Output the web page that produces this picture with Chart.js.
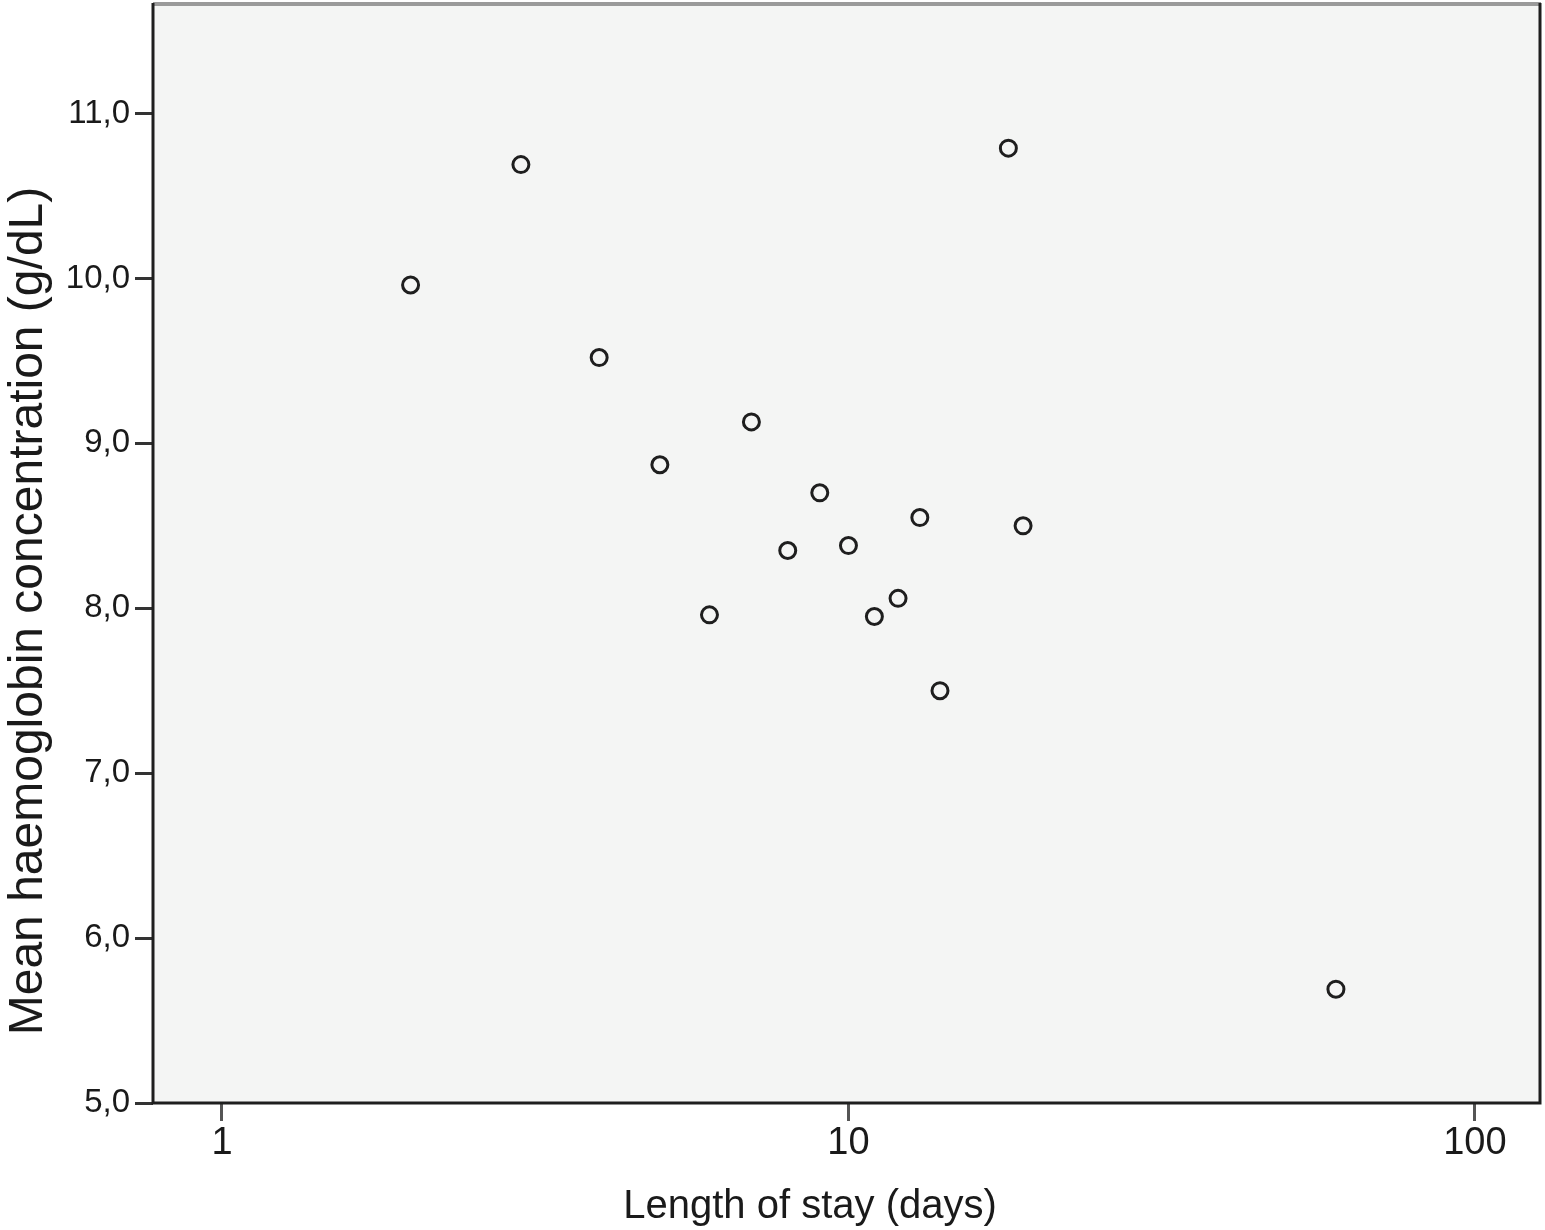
<!DOCTYPE html>
<html>
<head>
<meta charset="utf-8">
<script src="https://cdn.jsdelivr.net/npm/chart.js@4"></script>
<style>
  body { margin: 0; background: #fff; }
  canvas { display: block; }
</style>
</head>
<body>
<canvas id="hbChart" width="1545" height="1230"></canvas>
<script>
// Data
const lengthOfStay = [2, 3, 4, 5, 6, 7, 8, 9, 10, 11, 12, 13, 14, 18, 19, 60];
const haemoglobin = [9.96, 10.69, 9.52, 8.87, 7.96, 9.13, 8.35, 8.70, 8.38, 7.95, 8.06, 8.55, 7.50, 10.79, 8.50, 5.69];
const xTickValues = [1, 10, 100];
const yTickValues = [5, 6, 7, 8, 9, 10, 11];
const xTitle = 'Length of stay (days)';
const yTitle = 'Mean haemoglobin concentration (g/dL)';

const FONT = '"Liberation Sans", Arial, Helvetica, sans-serif';

// plot background + frame + axis titles
const framePlugin = {
    id: 'frame',
    beforeDraw(chart) {
        const { ctx, chartArea: a } = chart;
        ctx.save();
        ctx.fillStyle = '#f4f5f4';
        ctx.fillRect(a.left, a.top, a.right - a.left, a.bottom - a.top);
        ctx.restore();
    },
    afterDraw(chart) {
        const { ctx, chartArea: a } = chart;
        ctx.save();
        // top edge (grey)
        ctx.strokeStyle = '#9a9a9a';
        ctx.lineWidth = 4;
        ctx.beginPath();
        ctx.moveTo(a.left, a.top + 1);
        ctx.lineTo(a.right, a.top + 1);
        ctx.stroke();
        // right, bottom, left (dark)
        ctx.strokeStyle = '#1e1e1e';
        ctx.lineWidth = 3;
        ctx.beginPath();
        ctx.moveTo(a.right - 1, a.top);
        ctx.lineTo(a.right - 1, a.bottom);
        ctx.lineTo(a.left, a.bottom);
        ctx.lineTo(a.left, a.top);
        ctx.stroke();

        // axis titles
        ctx.fillStyle = '#1a1a1a';
        ctx.textAlign = 'center';
        ctx.textBaseline = 'alphabetic';
        ctx.font = '40px ' + FONT;
        ctx.fillText(xTitle, 810, 1218);

        ctx.translate(42, 611);
        ctx.rotate(-Math.PI / 2);
        ctx.font = '48px ' + FONT;
        ctx.fillText(yTitle, 0, 0);
        ctx.restore();
    }
};

const ctx = document.getElementById('hbChart').getContext('2d');
new Chart(ctx, {
    type: 'scatter',
    data: {
        datasets: [{
            data: lengthOfStay.map((d, i) => ({ x: d, y: haemoglobin[i] })),
            pointRadius: 8,
            pointHoverRadius: 8,
            pointBorderWidth: 3,
            pointBorderColor: '#1e1e1e',
            pointBackgroundColor: 'rgba(0,0,0,0)'
        }]
    },
    options: {
        responsive: false,
        devicePixelRatio: 1,
        animation: false,
        layout: { autoPadding: false, padding: { left: 0, top: 3, right: 4, bottom: 0 } },
        plugins: {
            legend: { display: false },
            tooltip: { enabled: false }
        },
        scales: {
            x: {
                type: 'logarithmic',
                min: 0.776,
                max: 127.5,
                afterBuildTicks: (scale) => {
                    scale.ticks = xTickValues.map(v => ({ value: v }));
                },
                afterFit: (scale) => {
                    scale.height = 127;
                    scale.paddingLeft = 0;
                    scale.paddingRight = 0;
                },
                grid: {
                    drawOnChartArea: false,
                    tickLength: 18,
                    tickWidth: 3,
                    tickColor: '#555'
                },
                border: { display: false },
                ticks: {
                    autoSkip: false,
                    maxRotation: 0,
                    padding: 0,
                    color: '#1a1a1a',
                    font: { family: FONT, size: 38 },
                    callback: (v) => String(v)
                }
            },
            y: {
                type: 'linear',
                min: 5,
                max: 11.67,
                afterBuildTicks: (scale) => {
                    scale.ticks = yTickValues.map(v => ({ value: v }));
                },
                afterFit: (scale) => {
                    scale.width = 153;
                    scale.paddingTop = 0;
                    scale.paddingBottom = 0;
                },
                grid: {
                    drawOnChartArea: false,
                    tickLength: 18,
                    tickWidth: 3,
                    tickColor: '#333'
                },
                border: { display: false },
                ticks: {
                    padding: 5,
                    color: '#1a1a1a',
                    font: { family: FONT, size: 33 },
                    callback: (v) => v.toFixed(1).replace('.', ',')
                }
            }
        }
    },
    plugins: [framePlugin]
});
</script>
</body>
</html>
